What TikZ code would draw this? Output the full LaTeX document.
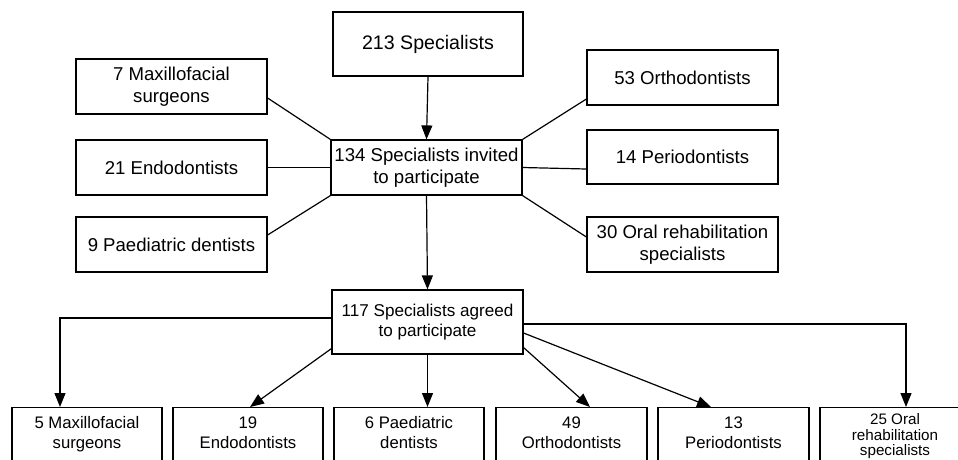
\documentclass[tikz,border=0pt]{standalone}
\usepackage{fontspec}
\setmainfont{Liberation Sans}
\usetikzlibrary{arrows.meta}
\begin{document}
\begin{tikzpicture}[x=1pt,y=-1pt,
  box/.style={draw, line width=1.2pt, align=center, inner sep=2pt,
    font=\fontsize{18.6}{21.5}\selectfont},
  midbox/.style={box, minimum width=191pt, minimum height=55pt},
  lowbox/.style={draw, line width=1.2pt, anchor=north, inner xsep=2pt,
    minimum width=150pt, font=\fontsize{16.7}{20}\selectfont},
  ln/.style={line width=1.2pt},
  arr/.style={line width=1.2pt, -{Triangle[length=14pt,width=11pt]}}]
\useasboundingbox (0,0) rectangle (958,459);
\fill[white] (0,0) rectangle (958,459);
% top part
\node[box, minimum width=190pt, minimum height=64pt, font=\fontsize{19.6}{22}\selectfont] (t213) at (428,44) {213 Specialists};
\node[midbox] (max) at (171.5,86.5) {7 Maxillofacial\\surgeons};
\node[midbox] (endo) at (171.5,167.5) {21 Endodontists};
\node[midbox] (paed) at (171.5,244.5) {9 Paediatric dentists};
\node[midbox] (inv) at (426.5,167.5) {134 Specialists invited\\to participate};
\node[midbox] (orth) at (682.5,77.5) {53 Orthodontists};
\node[midbox, minimum height=54pt] (peri) at (682.5,157) {14 Periodontists};
\node[midbox] (oral) at (682.5,244.5) {30 Oral rehabilitation\\specialists};
\node[box, minimum width=191pt, minimum height=64pt, font=\fontsize{17.1}{20.7}\selectfont] (agr) at (427.5,322) {117 Specialists agreed\\to participate};
% bottom boxes
\node[lowbox, inner ysep=9pt] (b1) at (87,407) {\parbox[t][48pt][t]{146pt}{\centering 5 Maxillofacial\\surgeons}};
\node[lowbox, inner ysep=9pt] (b2) at (248,407) {\parbox[t][48pt][t]{146pt}{\centering 19\\Endodontists}};
\node[lowbox, inner ysep=9pt] (b3) at (409,407) {\parbox[t][48pt][t]{146pt}{\centering 6 Paediatric\\dentists}};
\node[lowbox, inner ysep=9pt, minimum width=151pt] (b4) at (571.5,407) {\parbox[t][48pt][t]{147pt}{\centering 49\\Orthodontists}};
\node[lowbox, inner ysep=9pt, minimum width=151pt] (b5) at (733.5,407) {\parbox[t][48pt][t]{147pt}{\centering 13\\Periodontists}};
\node[lowbox, inner ysep=6pt, font=\fontsize{15.2}{15.5}\selectfont] (b6) at (895,407) {\parbox[t][52pt][t]{146pt}{\centering 25 Oral\\rehabilitation\\specialists}};
% connectors top
\draw[arr] (t213.south) -- (inv.north);
\draw[ln] ([yshift=-11.5pt]max.east) -- (inv.north west);
\draw[ln] (endo.east) -- (inv.west);
\draw[ln] ([yshift=9.5pt]paed.east) -- (inv.south west);
\draw[ln] (inv.north east) -- ([yshift=-21.5pt]orth.west);
\draw[ln] (inv.east) -- ([yshift=-12pt]peri.west);
\draw[ln] (inv.south east) -- ([yshift=7.5pt]oral.west);
\draw[arr] (inv.south) -- (agr.north);
% connectors bottom
\draw[arr] ([yshift=4pt]agr.west) -| ([xshift=-27pt]b1.north);
\draw[arr] ([yshift=6pt]agr.south west) -- ([xshift=2pt]b2.north);
\draw[arr] (agr.south) -- (agr.south |- b3.north);
\draw[arr] ([yshift=7pt]agr.south east) -- ([xshift=18.5pt]b4.north);
\draw[arr] ([yshift=-11pt]agr.east) -- ([xshift=-22.5pt]b5.north);
\draw[arr] ([yshift=-2pt]agr.east) -| ([xshift=11pt]b6.north);
\end{tikzpicture}
\end{document}
